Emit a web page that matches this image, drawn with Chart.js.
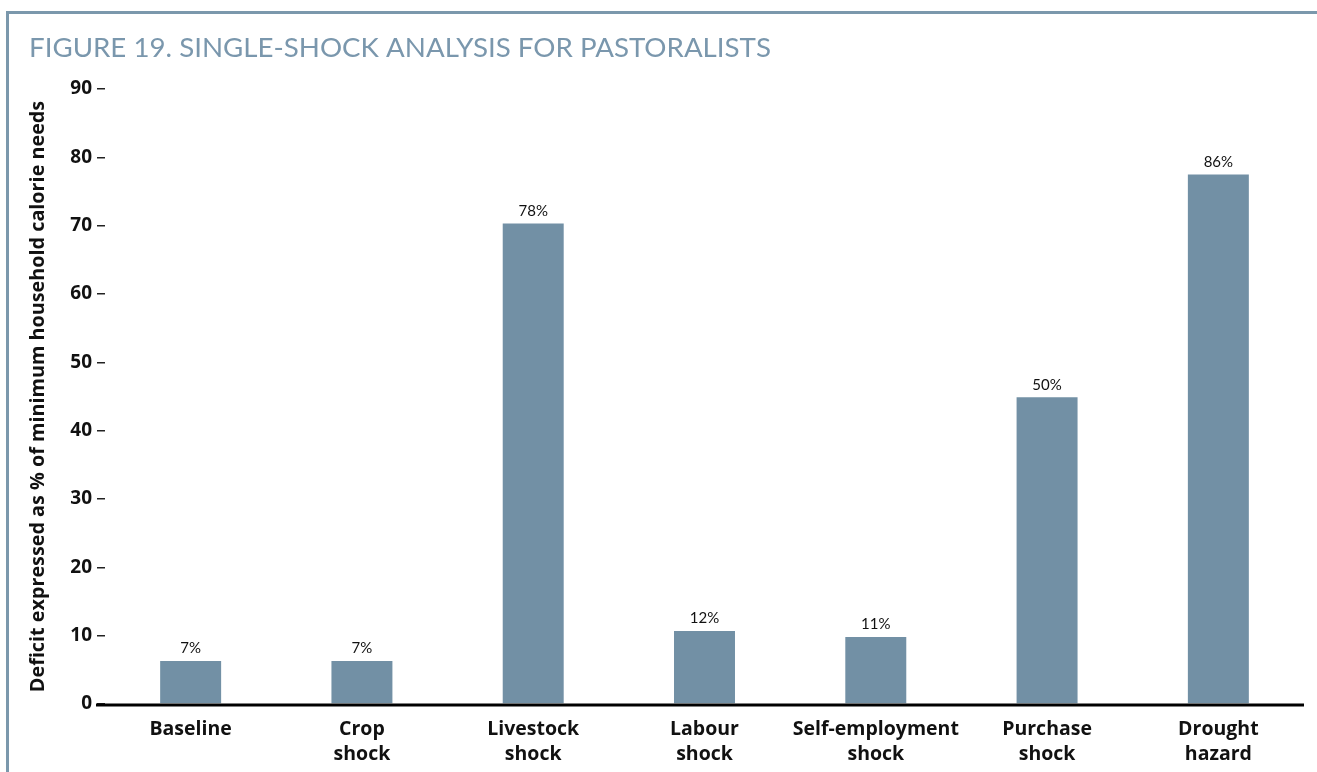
<!DOCTYPE html>
<html><head><meta charset="utf-8">
<script src="https://cdn.jsdelivr.net/npm/chart.js@4.4.1/dist/chart.umd.min.js"></script>
<style>html,body{margin:0;padding:0;background:#fff;}#wrap{width:1317px;height:772px;position:relative;}</style>
</head><body><div id="wrap"><canvas id="c" width="1317" height="772"></canvas></div>
<script>
const chartTitle = 'FIGURE 19. SINGLE-SHOCK ANALYSIS FOR PASTORALISTS';
const yAxisTitle = 'Deficit expressed as % of minimum household calorie needs';
const categories = [['Baseline'], ['Crop', 'shock'], ['Livestock', 'shock'], ['Labour', 'shock'], ['Self-employment', 'shock'], ['Purchase', 'shock'], ['Drought', 'hazard']];
const deficitValues = [6.3, 6.3, 70.3, 10.7, 9.8, 44.9, 77.5];
const valueLabels = ['7%', '7%', '78%', '12%', '11%', '50%', '86%'];
const yTicks = [0, 10, 20, 30, 40, 50, 60, 70, 80, 90];

const FONT = 'Lato, "Open Sans", sans-serif';
const BOLD = '"Open Sans", Lato, sans-serif';
const frameColor = '#7b98ac';

const decor = {
  id: 'decor',
  beforeDraw(chart) {
    const ctx = chart.ctx;
    ctx.save();
    ctx.strokeStyle = frameColor;
    ctx.lineWidth = 3;
    ctx.beginPath();
    ctx.moveTo(1317, 12.5); ctx.lineTo(7.5, 12.5); ctx.lineTo(7.5, 772);
    ctx.stroke();
    ctx.fillStyle = '#7a97ad';
    ctx.font = '27.7px ' + FONT;
    ctx.textBaseline = 'alphabetic';
    ctx.textAlign = 'left';
    ctx.fillText(chartTitle, 29, 57);
    ctx.restore();
  },
  afterDatasetsDraw(chart) {
    const ctx = chart.ctx;
    const meta = chart.getDatasetMeta(0);
    const area = chart.chartArea;
    ctx.save();
    ctx.strokeStyle = '#000';
    ctx.lineWidth = 3;
    ctx.beginPath();
    ctx.moveTo(area.left - 9, area.bottom + 1);
    ctx.lineTo(area.right, area.bottom + 1);
    ctx.stroke();
    ctx.fillStyle = '#111';
    ctx.font = '15px ' + FONT;
    ctx.textAlign = 'center';
    ctx.textBaseline = 'bottom';
    meta.data.forEach((bar, i) => {
      ctx.fillText(valueLabels[i], bar.x, bar.y - 5);
    });
    ctx.restore();
  }
};

new Chart(document.getElementById('c'), {
  type: 'bar',
  data: {
    labels: categories,
    datasets: [{
      data: deficitValues,
      backgroundColor: '#7290a5',
      borderWidth: 0,
      barPercentage: 0.356,
      categoryPercentage: 1.0
    }]
  },
  options: {
    responsive: false,
    animation: false,
    devicePixelRatio: 1,
    layout: { padding: { top: 89, right: 13, bottom: 0, left: 0 } },
    plugins: { legend: { display: false }, tooltip: { enabled: false } },
    scales: {
      x: {
        grid: { display: false },
        border: { display: false },
        ticks: {
          color: '#111',
          font: { family: BOLD, size: 19.5, weight: 'bold', lineHeight: 1.27 },
          padding: 5,
          maxRotation: 0,
          autoSkip: false
        },
        afterFit(s) { s.height = 68; }
      },
      y: {
        min: 0, max: 90,
        afterBuildTicks(s) { s.ticks = yTicks.map(v => ({ value: v })); },
        grid: { drawOnChartArea: false, drawTicks: true, tickLength: 8, color: '#222', lineWidth: 1.5 },
        border: { display: false },
        ticks: {
          color: '#111',
          font: { family: BOLD, size: 19, weight: 'bold' },
          padding: 5
        },
        title: {
          display: true,
          text: yAxisTitle,
          color: '#111',
          font: { family: BOLD, size: 19.8, weight: 'bold' },
          padding: { top: 26, bottom: 0 }
        },
        afterFit(s) { s.width = 105; }
      }
    }
  },
  plugins: [decor]
});
</script></body></html>
